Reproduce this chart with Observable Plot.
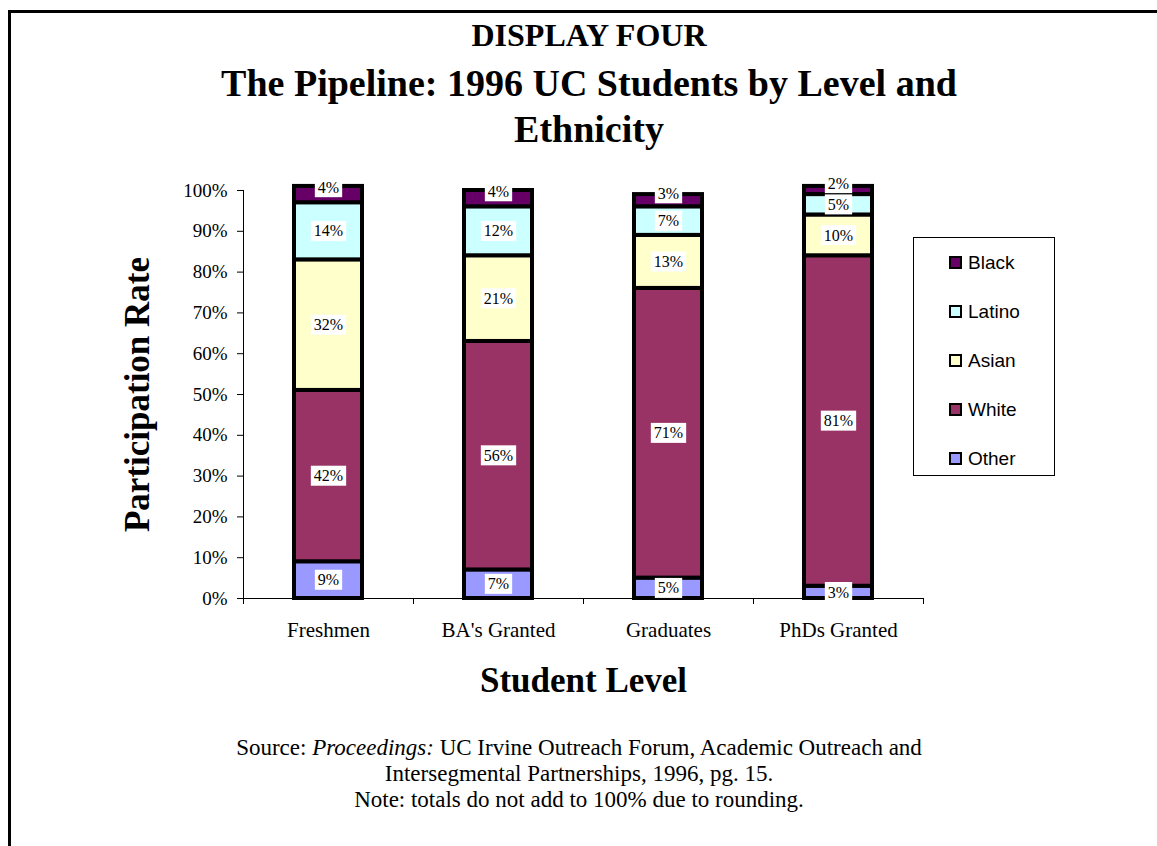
<!DOCTYPE html>
<html>
<head>
<meta charset="utf-8">
<script src="https://cdn.jsdelivr.net/npm/d3@7"></script>
<script src="https://cdn.jsdelivr.net/npm/@observablehq/plot@0.6"></script>
<style>
  html, body { margin: 0; padding: 0; background: #fff; }
  body { width: 1157px; height: 846px; overflow: hidden; position: relative;
         font-family: "Liberation Serif", "Times New Roman", serif; color: #000; }
  #frame { position: absolute; left: 8px; top: 10px; width: 1300px; height: 1000px;
           border-left: 3px solid #000; border-top: 3px solid #000; box-sizing: border-box; z-index: 3; pointer-events: none; }
  #chart { position: absolute; left: 0; top: 0; z-index: 1; }
  .ctr { position: absolute; left: 0; width: 1178px; text-align: center; z-index: 2; white-space: nowrap; }
  #kicker { top: 19px; font-size: 32px; line-height: 32px; font-weight: bold; }
  #title { top: 60px; font-size: 38px; line-height: 46px; font-weight: bold; }
  #source { top: 735px; width: 1158px; font-size: 23px; line-height: 26px; }
  #legend { position: absolute; left: 913px; top: 237px; width: 142px; height: 239px;
            border: 1px solid #000; box-sizing: border-box; z-index: 2; background: #fff; }
  .item { position: absolute; left: 35px; height: 20px; display: flex; align-items: center;
          font-family: "Liberation Sans", Arial, sans-serif; font-size: 19px; }
  .sw { width: 9px; height: 9px; border: 2.5px solid #000; margin-right: 6px; }
</style>
</head>
<body>
<div id="frame"></div>
<div id="kicker" class="ctr">DISPLAY FOUR</div>
<div id="title" class="ctr">The Pipeline: 1996 UC Students by Level and<br>Ethnicity</div>
<div id="chart"></div>
<div id="legend"></div>
<div id="source" class="ctr">Source: <i>Proceedings:</i> UC Irvine Outreach Forum, Academic Outreach and<br>Intersegmental Partnerships, 1996, pg. 15.<br>Note: totals do not add to 100% due to rounding.</div>
<script>
// ---- data ----
const levels = ["Freshmen", "BA's Granted", "Graduates", "PhDs Granted"];
const groups = ["Other", "White", "Asian", "Latino", "Black"];   // bottom to top
const other  = [9, 7, 5, 3];
const white  = [42, 56, 71, 81];
const asian  = [32, 21, 13, 10];
const latino = [14, 12, 7, 5];
const black  = [4, 4, 3, 2];
const colors = ["#9999FF", "#993366", "#FFFFCC", "#CCFFFF", "#660066"];
const yTicks = [0, 10, 20, 30, 40, 50, 60, 70, 80, 90, 100];

const series = {Other: other, White: white, Asian: asian, Latino: latino, Black: black};

// build stacked rows
const rows = [];
levels.forEach((lev, i) => {
  let cum = 0;
  groups.forEach(g => {
    const v = series[g][i];
    rows.push({level: lev, group: g, value: v, y1: cum, y2: cum + v, mid: cum + v / 2});
    cum += v;
  });
});

const W = 1157, H = 846, mL = 243, mR = 234, mT = 190, mB = 248;
const half = (W - mL - mR) / levels.length / 2;

const chart = Plot.plot({
  width: W, height: H,
  marginLeft: mL, marginRight: mR, marginTop: mT, marginBottom: mB,
  style: {fontFamily: "'Liberation Serif', 'Times New Roman', serif", fontSize: "19px", color: "#000", background: "white", overflow: "visible"},
  x: {type: "band", domain: levels, padding: 0},
  y: {domain: [0, 100]},
  color: {domain: groups, range: colors},
  marks: [
    Plot.barY(rows, {x: "level", y1: "y1", y2: "y2", fill: "group", stroke: "#000", strokeWidth: 4, insetLeft: 51, insetRight: 51}),
    Plot.ruleY([0], {stroke: "#000"}),
    Plot.ruleX([levels[0]], {x: d => d, dx: -half, y1: 0, y2: 100, stroke: "#000"}),
    Plot.ruleX(levels, {x: d => d, dx: -half, y1: 0, y2: 0, insetBottom: -6, stroke: "#000"}),
    Plot.ruleX([levels[levels.length - 1]], {x: d => d, dx: half, y1: 0, y2: 0, insetBottom: -6, stroke: "#000"}),
    Plot.axisY({ticks: yTicks, tickFormat: d => d + "%", tickSize: 6, tickPadding: 10, fontSize: 19, label: null}),
    Plot.axisY({ticks: [], label: "Participation Rate", labelAnchor: "center", labelArrow: "none", labelOffset: 119, fontSize: 35, fontWeight: "bold"}),
    Plot.axisX({tickSize: 0, tickPadding: 24, fontSize: 21, label: null}),
    Plot.axisX({ticks: [], label: "Student Level", labelAnchor: "center", labelArrow: "none", labelOffset: 93, fontSize: 35, fontWeight: "bold"}),
    Plot.text(rows, {x: "level", y: "mid", text: d => d.group === "Black" ? null : d.value + "%", fontSize: 16, fill: "#000"}),
    Plot.text(rows, {x: "level", y: "mid", text: d => d.group === "Black" ? d.value + "%" : null, dy: -7, fontSize: 16, fill: "#000"})
  ]
});
document.getElementById("chart").appendChild(chart);

// white boxes behind data labels
chart.querySelectorAll('g[aria-label="text"] text').forEach(t => {
  const b = t.getBBox();
  const r = document.createElementNS("http://www.w3.org/2000/svg", "rect");
  r.setAttribute("x", b.x - 3);
  r.setAttribute("y", b.y - 1.5);
  r.setAttribute("width", b.width + 6);
  r.setAttribute("height", b.height + 3);
  r.setAttribute("fill", "#fff");
  r.setAttribute("stroke", "none");
  const tr = t.getAttribute("transform");
  if (tr) r.setAttribute("transform", tr);
  t.parentNode.insertBefore(r, t);
});

// legend (top to bottom: reverse of stack order)
const legend = document.getElementById("legend");
groups.slice().reverse().forEach((g, i) => {
  const it = document.createElement("div");
  it.className = "item";
  it.style.top = (14.5 + 49 * i) + "px";
  const sw = document.createElement("div");
  sw.className = "sw";
  sw.style.background = colors[groups.indexOf(g)];
  const tx = document.createElement("span");
  tx.textContent = g;
  it.appendChild(sw); it.appendChild(tx);
  legend.appendChild(it);
});
</script>
</body>
</html>
